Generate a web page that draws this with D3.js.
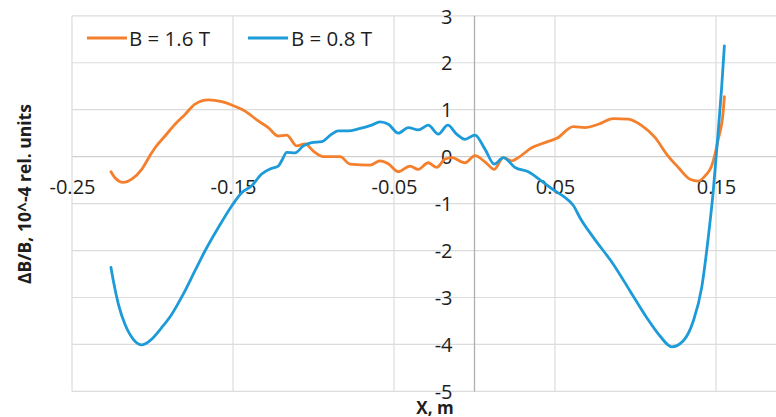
<!DOCTYPE html>
<html>
<head>
<meta charset="utf-8">
<script src="https://cdn.jsdelivr.net/npm/d3@7"></script>
<style>
  html, body { margin: 0; padding: 0; background: #fff; }
  svg { display: block; }
</style>
</head>
<body>
<svg id="chart" width="776" height="417"></svg>
<script>
// ---- Data ----
const seriesNames = ["B = 1.6 T", "B = 0.8 T"];
const xGrid = [-0.25, -0.15, -0.05, 0.05, 0.15, 0.25];
const xTicks = [-0.25, -0.15, -0.05, 0.05, 0.15];
const xTickLabels = ["-0.25", "-0.15", "-0.05", "0.05", "0.15"];
const yTicks = [-5, -4, -3, -2, -1, 0, 1, 2, 3];
const yTickLabels = ["-5", "-4", "-3", "-2", "-1", "0", "1", "2", "3"];

const x16 = [-0.2258,-0.2233,-0.2181,-0.2129,-0.2067,-0.2016,-0.1984,-0.1922,-0.1860,-0.1798,-0.1736,-0.1653,-0.1570,-0.1508,-0.1425,-0.1343,-0.1281,-0.1219,-0.1166,-0.1104,-0.1053,-0.1001,-0.0939,-0.0835,-0.0773,-0.0649,-0.0587,-0.0535,-0.0473,-0.0401,-0.0349,-0.0287,-0.0235,-0.0183,-0.0142,-0.0059,0.0003,0.0065,0.0123,0.0179,0.0231,0.0272,0.0355,0.0438,0.0511,0.0614,0.0686,0.0769,0.0862,0.0955,0.1039,0.1121,0.1194,0.1266,0.1339,0.1390,0.1432,0.1473,0.1514,0.1545,0.1552];
const y16 = [-0.32,-0.45,-0.55,-0.48,-0.27,0.02,0.19,0.44,0.69,0.90,1.12,1.21,1.17,1.10,0.97,0.76,0.62,0.44,0.46,0.23,0.27,0.12,0.00,0.00,-0.16,-0.18,-0.09,-0.15,-0.32,-0.20,-0.27,-0.13,-0.23,-0.05,-0.02,-0.13,0.02,-0.11,-0.27,-0.02,-0.09,-0.02,0.19,0.30,0.39,0.64,0.62,0.69,0.81,0.80,0.66,0.41,0.05,-0.23,-0.48,-0.52,-0.41,-0.20,0.37,0.97,1.28];

const x08 = [-0.2258,-0.2243,-0.2212,-0.2171,-0.2119,-0.2067,-0.2016,-0.1943,-0.1881,-0.1809,-0.1736,-0.1674,-0.1591,-0.1508,-0.1446,-0.1384,-0.1322,-0.1260,-0.1219,-0.1198,-0.1166,-0.1115,-0.1063,-0.1011,-0.0949,-0.0887,-0.0846,-0.0784,-0.0722,-0.0639,-0.0587,-0.0535,-0.0473,-0.0411,-0.0349,-0.0287,-0.0225,-0.0166,-0.0111,-0.0059,0.0003,0.0065,0.0123,0.0179,0.0252,0.0334,0.0417,0.0500,0.0562,0.0614,0.0655,0.0738,0.0862,0.0966,0.1070,0.1152,0.1225,0.1297,0.1359,0.1411,0.1452,0.1483,0.1514,0.1535,0.1552];
const y08 = [-2.36,-2.65,-3.14,-3.57,-3.89,-4.01,-3.92,-3.64,-3.36,-2.93,-2.43,-2.01,-1.51,-1.05,-0.77,-0.62,-0.37,-0.25,-0.20,-0.09,0.09,0.08,0.23,0.30,0.32,0.48,0.55,0.55,0.59,0.67,0.74,0.69,0.50,0.62,0.57,0.67,0.48,0.67,0.48,0.37,0.46,0.16,-0.16,-0.02,-0.23,-0.32,-0.52,-0.73,-0.87,-1.04,-1.30,-1.72,-2.29,-2.86,-3.43,-3.82,-4.05,-3.92,-3.50,-2.79,-1.72,-0.73,0.55,1.47,2.36];

const colors = ["#F47F2C", "#1D9BD8"];

// ---- Layout ----
const svg = d3.select("#chart");
const W = 776, H = 417;
const x = d3.scaleLinear().domain([-0.25, 0.25]).range([72, 877]);
const y = d3.scaleLinear().domain([-5, 3]).range([391.4, 15.8]);
const plotRight = W;

const font = "'Open Sans', 'Liberation Sans', Arial, sans-serif";

// gridlines
const grid = svg.append("g");
grid.selectAll("line.h").data(yTicks).join("line")
  .attr("x1", x(-0.25)).attr("x2", plotRight)
  .attr("y1", d => y(d)).attr("y2", d => y(d))
  .attr("stroke", d => d === 0 ? "#CFCFCF" : "#DCDCDC").attr("stroke-width", 1.2);
grid.selectAll("line.v").data(xGrid).join("line")
  .attr("x1", d => x(d)).attr("x2", d => x(d))
  .attr("y1", y(3)).attr("y2", y(-5))
  .attr("stroke", "#DCDCDC").attr("stroke-width", 1.2);
// vertical axis line at x = 0
grid.append("line")
  .attr("x1", x(0)).attr("x2", x(0)).attr("y1", y(3)).attr("y2", y(-5))
  .attr("stroke", "#AFAFAF").attr("stroke-width", 1.3);

// x axis labels (axis crosses at y = 0)
const xAxis = d3.axisBottom(x).tickValues(xTicks)
  .tickFormat((d, i) => xTickLabels[i]).tickSize(0);
const gx = svg.append("g").attr("transform", `translate(0,${y(0)})`).call(xAxis);
gx.select(".domain").remove();
gx.selectAll("text").attr("y", 37.5).attr("dy", 0)
  .attr("font-family", font).attr("font-size", 20).attr("fill", "#1e1e1e");

// y axis labels (axis crosses at x = 0)
const yAxis = d3.axisLeft(y).tickValues(yTicks)
  .tickFormat((d, i) => yTickLabels[i]).tickSize(0).tickPadding(22);
const gy = svg.append("g").attr("transform", `translate(${x(0)},0)`).call(yAxis);
gy.select(".domain").remove();
gy.selectAll("text").attr("dy", "0.36em")
  .attr("font-family", font).attr("font-size", 20).attr("fill", "#1e1e1e");

// lines
const line = d3.line().x(d => x(d[0])).y(d => y(d[1])).curve(d3.curveMonotoneX);
const s16 = x16.map((v, i) => [v, y16[i]]);
const s08 = x08.map((v, i) => [v, y08[i]]);
[s16, s08].forEach((s, i) => {
  svg.append("path").datum(s)
    .attr("d", line).attr("fill", "none")
    .attr("stroke", colors[i]).attr("stroke-width", 2.8)
    .attr("stroke-linejoin", "round").attr("stroke-linecap", "round");
});

// legend
const legend = [
  { x1: 87, x2: 127, tx: 129 },
  { x1: 248, x2: 288, tx: 291 }
];
legend.forEach((l, i) => {
  svg.append("line").attr("x1", l.x1).attr("x2", l.x2).attr("y1", 38).attr("y2", 38)
    .attr("stroke", colors[i]).attr("stroke-width", 2.8);
  svg.append("text").attr("x", l.tx).attr("y", 45.5)
    .attr("font-family", font).attr("font-size", 20.5).attr("fill", "#1e1e1e")
    .text(seriesNames[i]);
});

// axis titles
svg.append("text").attr("x", 435).attr("y", 413.5)
  .attr("text-anchor", "middle").attr("font-family", font)
  .attr("font-weight", "bold").attr("font-size", 17).attr("fill", "#1e1e1e")
  .text("X, m");
svg.append("text")
  .attr("transform", "translate(31,194) rotate(-90)")
  .attr("text-anchor", "middle").attr("font-family", font)
  .attr("font-weight", "bold").attr("font-size", 17.5).attr("fill", "#1e1e1e")
  .text("ΔB/B, 10^-4 rel. units");
</script>
</body>
</html>
